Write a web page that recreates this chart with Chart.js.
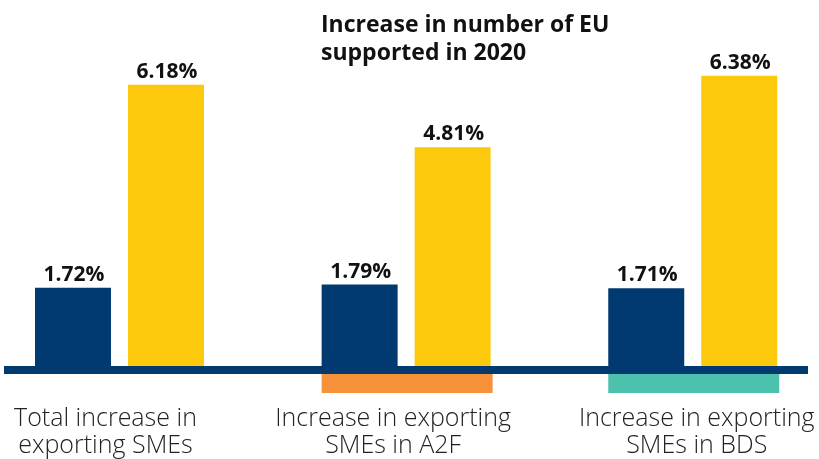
<!DOCTYPE html>
<html>
<head>
<meta charset="utf-8">
<title>Increase in number of EU supported in 2020</title>
<script src="https://cdn.jsdelivr.net/npm/chart.js@4"></script>
<style>
    html, body { margin: 0; padding: 0; background: #fff; }
    #wrap { position: relative; width: 819px; height: 459px; }
</style>
</head>
<body>
<div id="wrap"><canvas id="smeChart"></canvas></div>
<script>
// -------- DATA --------
const categories = [
    ['Total increase in', 'exporting SMEs'],
    ['Increase in exporting', 'SMEs in A2F'],
    ['Increase in exporting', 'SMEs in BDS']
];
const firstSeries = [1.72, 1.79, 1.71];
const secondSeries = [6.18, 4.81, 6.38];
const titleLines = ['Increase in number of EU', 'supported in 2020'];
// -------- END DATA --------

// -------- STYLE --------
const NAVY = '#003A70';
const YELLOW = '#FDC90D';
const stripeColors = [null, '#F7923A', '#4CC1AD'];
const labelNudge = [-14, -13, 4];
const FONT = '"Open Sans", Lato, sans-serif';
// -------- END STYLE --------

// -------- PLUGIN: text, baseline, stripes --------
const decorPlugin = {
    id: 'decor',
    afterDraw(chart) {
        const ctx = chart.ctx;
        const x = chart.scales.x;
        const y = chart.scales.y;
        const y0 = y.getPixelForValue(0);
        const navyBars = chart.getDatasetMeta(0).data;
        const yellowBars = chart.getDatasetMeta(1).data;

        ctx.save();

        // axis line
        ctx.fillStyle = NAVY;
        ctx.fillRect(4, y0, 804, 8);

        // coloured stripes under groups
        stripeColors.forEach((color, i) => {
            if (!color) return;
            const left = navyBars[i].x - navyBars[i].width / 2;
            const right = yellowBars[i].x + yellowBars[i].width / 2 + 2;
            ctx.fillStyle = color;
            ctx.fillRect(left, y0 + 8, right - left, 19);
        });

        // value labels
        ctx.fillStyle = '#111';
        ctx.font = `bold 21px ${FONT}`;
        ctx.textAlign = 'center';
        ctx.textBaseline = 'alphabetic';
        [navyBars, yellowBars].forEach((bars, d) => {
            const values = chart.data.datasets[d].data;
            bars.forEach((bar, i) => {
                ctx.fillText(values[i].toFixed(2) + '%', bar.x + 1, bar.y - 7);
            });
        });

        // category labels
        ctx.fillStyle = '#222';
        ctx.font = `300 25px ${FONT}`;
        categories.forEach((lines, i) => {
            const cx = x.getPixelForValue(i) + labelNudge[i];
            lines.forEach((line, j) => {
                ctx.fillText(line, cx, y0 + 60 + j * 27);
            });
        });

        // title
        ctx.fillStyle = '#111';
        ctx.font = `bold 23px ${FONT}`;
        ctx.textAlign = 'left';
        titleLines.forEach((line, j) => {
            ctx.fillText(line, 321, 32 + j * 28);
        });

        ctx.restore();
    }
};
// -------- END PLUGIN --------

// -------- CHART --------
function createChart() {
    const ctx = document.getElementById('smeChart').getContext('2d');
    new Chart(ctx, {
        type: 'bar',
        data: {
            labels: categories,
            datasets: [{
                data: firstSeries,
                backgroundColor: NAVY,
                clip: false
            }, {
                data: secondSeries,
                backgroundColor: YELLOW,
                clip: false
            }]
        },
        options: {
            responsive: true,
            maintainAspectRatio: false,
            animation: false,
            categoryPercentage: 0.649,
            barPercentage: 0.817,
            layout: {
                padding: { left: 119.5, right: 126.25, top: 2, bottom: 93 }
            },
            plugins: {
                legend: { display: false },
                tooltip: { enabled: false }
            },
            scales: {
                x: { display: false, offset: false },
                y: { display: false, min: 0, max: 8 }
            }
        },
        plugins: [decorPlugin]
    });
}

document.addEventListener('DOMContentLoaded', createChart);
// -------- END CHART --------
</script>
</body>
</html>
